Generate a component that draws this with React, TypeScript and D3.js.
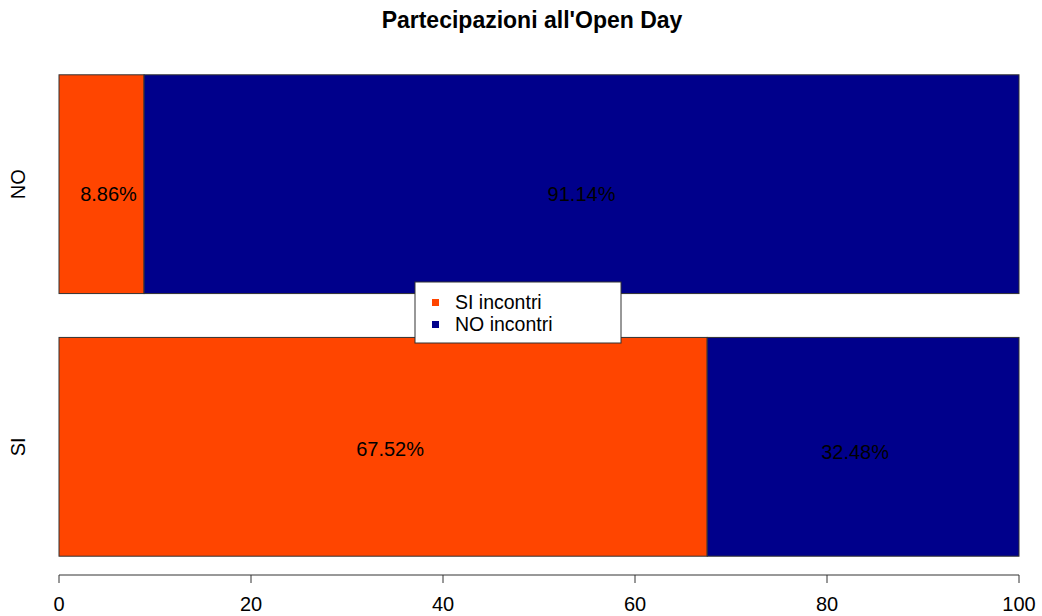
import React from "react";
import * as d3 from "d3";

const categories = ["NO", "SI"];
const siIncontri = [8.86, 67.52];
const noIncontri = [91.14, 32.48];
const seriesNames = ["SI incontri", "NO incontri"];
const seriesColors = ["#FF4500", "#00008B"];
const xTicks = [0, 20, 40, 60, 80, 100];
const title = "Partecipazioni all'Open Day";

// small label nudges (pixels) per [category][series], matching the reference placement
const labelNudge = [
  [[7, 10], [0, 10]],
  [[7, 2], [-8, 5]],
];

export default function App() {
  const W = 1042, H = 616;
  const x = d3.scaleLinear().domain([0, 100]).range([59, 1019]);
  const y = d3.scaleBand().domain(categories).range([53, 578]).paddingInner(0.167).paddingOuter(0.083);
  const font = "Liberation Sans, Arial, Helvetica, sans-serif";
  const series = [siIncontri, noIncontri];
  return (
    <svg width={W} height={H} style={{ position: "absolute", left: 0, top: 0, background: "#fff" }} fontFamily={font}>
      <text x={532} y={28} textAnchor="middle" fontSize={23} fontWeight="bold">{title}</text>
      {categories.map((c, i) => {
        let acc = 0;
        return (
          <g key={c}>
            {series.map((s, j) => {
              const x0 = acc;
              acc += s[i];
              const [dx, dy] = labelNudge[i][j];
              return (
                <g key={j}>
                  <rect x={x(x0)} y={y(c)} width={x(acc) - x(x0)} height={y.bandwidth()} fill={seriesColors[j]} stroke="#333" strokeWidth={1} />
                  <text x={x(x0 + s[i] / 2) + dx} y={y(c)! + y.bandwidth() / 2 + dy} dy="0.35em" textAnchor="middle" fontSize={20} fill="#000">{s[i].toFixed(2)}%</text>
                </g>
              );
            })}
            <text transform={`translate(25,${y(c)! + y.bandwidth() / 2}) rotate(-90)`} textAnchor="middle" fontSize={20}>{c}</text>
          </g>
        );
      })}
      <g>
        <line x1={x(0)} x2={x(100)} y1={575} y2={575} stroke="#333" />
        {xTicks.map(t => (
          <g key={t}>
            <line x1={x(t)} x2={x(t)} y1={575} y2={583} stroke="#333" />
            <text x={x(t)} y={611} textAnchor="middle" fontSize={20}>{t}</text>
          </g>
        ))}
      </g>
      <g>
        <rect x={415} y={282} width={206} height={61} fill="#fff" stroke="#333" />
        {seriesNames.map((n, i) => (
          <g key={n}>
            <rect x={432} y={299 + i * 22} width={7} height={7} fill={seriesColors[i]} />
            <text x={455} y={302 + i * 22} dy="0.35em" fontSize={19.5} fill="#000">{n}</text>
          </g>
        ))}
      </g>
    </svg>
  );
}
